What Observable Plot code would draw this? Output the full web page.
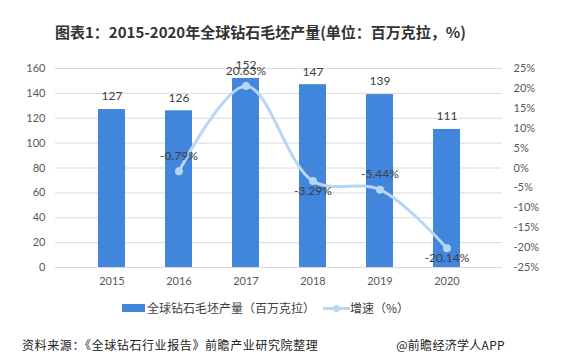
<!DOCTYPE html>
<html><head><meta charset="utf-8">
<script src="https://cdn.jsdelivr.net/npm/d3@7"></script>
<script src="https://cdn.jsdelivr.net/npm/@observablehq/plot@0.6"></script>
<style>
body{margin:0;background:#fff;font-family:"Noto Sans CJK SC","Noto Sans",sans-serif;}
#wrap{position:relative;width:566px;height:361px;overflow:hidden;}
#title{position:absolute;top:21px;left:55px;white-space:nowrap;font-size:15px;font-weight:bold;color:#333;}
#chart{position:absolute;top:50px;left:0;}
#legend{position:absolute;top:299px;left:0;width:566px;font-size:12px;color:#404040;}
#footer{position:absolute;top:336px;left:22px;font-size:12px;color:#222;letter-spacing:0.6px;}
#footer2{position:absolute;top:336px;right:61px;font-size:12px;color:#222;letter-spacing:0.3px;}
</style></head>
<body><div id="wrap">
<div id="title">图表1：2015-2020年全球钻石毛坯产量(单位：百万克拉，%)</div>
<div id="chart"></div>
<div id="legend">
  <span style="position:absolute;left:122px;top:5px;width:23px;height:8px;background:#4285dc"></span>
  <span style="position:absolute;left:147px;top:0px;">全球钻石毛坯产量（百万克拉）</span>
  <span style="position:absolute;left:323px;top:8px;width:27px;height:3px;background:#b8d5f5"></span>
  <span style="position:absolute;left:333px;top:6px;width:7px;height:7px;border-radius:50%;background:#b8d5f5"></span>
  <span style="position:absolute;left:350px;top:0px;">增速（%）</span>
</div>
<div id="footer">资料来源：《全球钻石行业报告》前瞻产业研究院整理</div>
<div id="footer2">@前瞻经济学人APP</div>
</div>
<script>
const years = ["2015","2016","2017","2018","2019","2020"];
const production = [127, 126, 152, 147, 139, 111];
const growthYears = ["2016","2017","2018","2019","2020"];
const growth = [-0.79, 20.63, -3.29, -5.44, -20.14];
const growthLabelBelow = [false, false, true, false, true];
const leftTicks = [0,20,40,60,80,100,120,140,160];
const rightTicks = [-25,-20,-15,-10,-5,0,5,10,15,20,25];

const bars = years.map((y,i)=>({year:y, v:production[i]}));
const toLeft = p => (p + 25) * 160 / 50;
const gl = growthYears.map((y,i)=>({year:y, g:growth[i], yy:toLeft(growth[i]), below:growthLabelBelow[i]}));
const fmt = d => d.g.toFixed(2) + "%";

const numFont = "Lato, 'Noto Sans', sans-serif";
const chart = Plot.plot({
  width: 566, height: 245,
  marginTop: 18, marginBottom: 28, marginLeft: 55, marginRight: 64,
  style: {fontFamily: numFont, fontSize: "11px", color: "#595959", background: "transparent"},
  x: {domain: years, padding: 0.6, label: null},
  y: {domain: [0,160], label: null},
  marks: [
    Plot.ruleY(leftTicks, {stroke: "#d9d9d9", strokeWidth: 1}),
    Plot.axisX({tickSize: 0, tickPadding: 10, fontSize: 11, fill: "#595959"}),
    Plot.axisY(leftTicks, {tickSize: 0, tickPadding: 10, fill: "#595959", label: null}),
    Plot.axisY(rightTicks.map(toLeft), {anchor: "right", tickSize: 0, tickPadding: 11, textAnchor: "start", fill: "#595959", label: null, tickFormat: d => Math.round(d*50/160 - 25) + "%"}),
    Plot.barY(bars, {x: "year", y: "v", fill: "#4285dc"}),
    Plot.text(bars, {x: "year", y: "v", text: d => String(d.v), dy: -13, fontSize: 12, fill: "#404040"}),
    Plot.line(gl, {x: "year", y: "yy", curve: "catmull-rom", stroke: "#b8d5f5", strokeWidth: 3}),
    Plot.dot(gl, {x: "year", y: "yy", r: 4, fill: "#b8d5f5"}),
    Plot.text(gl.filter(d => !d.below), {x: "year", y: "yy", text: fmt, dy: -15, fontSize: 12, fill: "#404040"}),
    Plot.text(gl.filter(d => d.below), {x: "year", y: "yy", text: fmt, dy: 10, fontSize: 12, fill: "#404040"})
  ]
});
document.getElementById("chart").appendChild(chart);
</script>
</body></html>
